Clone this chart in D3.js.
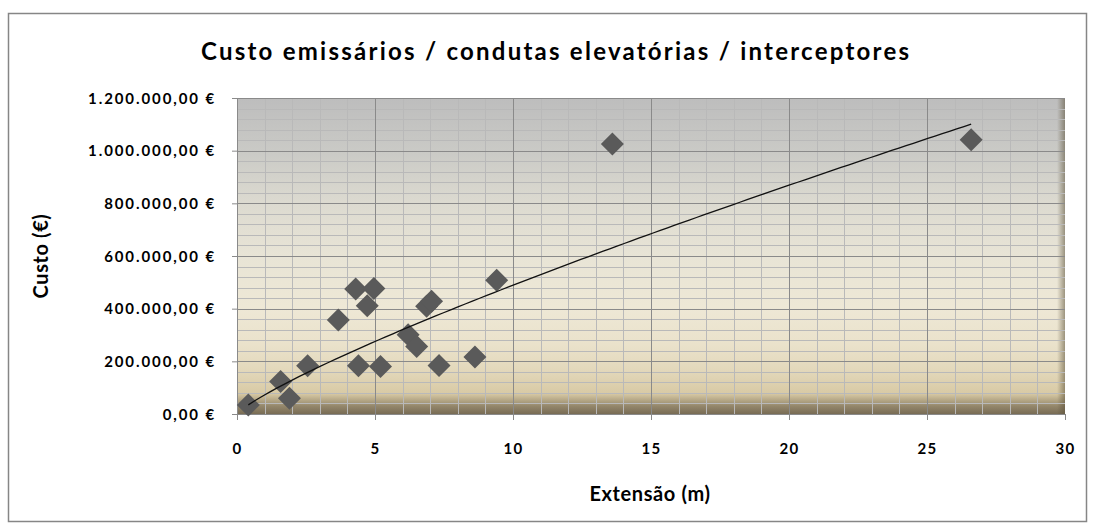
<!DOCTYPE html>
<html>
<head>
<meta charset="utf-8">
<script src="https://cdn.jsdelivr.net/npm/d3@7"></script>
<style>
  html, body { margin: 0; padding: 0; background: #fff; }
  svg { display: block; }
  text { font-family: Lato, "Open Sans", sans-serif; fill: #000; }
</style>
</head>
<body>
<svg id="chart" width="1095" height="528"></svg>
<script>
// ---- data ----
const extensao = [0.41, 1.58, 1.9, 2.56, 3.67, 4.3, 4.4, 4.72, 4.96, 5.2, 6.2, 6.51, 6.87, 7.05, 7.32, 8.62, 9.41, 13.6, 26.6];
const custo    = [34000, 123000, 60000, 183000, 357000, 475000, 183000, 411000, 477000, 180000, 301000, 256000, 409000, 428000, 184000, 216000, 508000, 1025000, 1041000];
const xTicks = [0, 5, 10, 15, 20, 25, 30];
const yTicks = [0, 200000, 400000, 600000, 800000, 1000000, 1200000];
const titleText = "Custo emissários / condutas elevatórias / interceptores";
const xTitle = "Extensão (m)";
const yTitle = "Custo (€)";

const svg = d3.select("#chart");
const L = 237, R = 1065, T = 98, B = 414;

const x = d3.scaleLinear().domain([0, 30]).range([L, R]);
const y = d3.scaleLinear().domain([0, 1200000]).range([B, T]);

const defs = svg.append("defs");
const g1 = defs.append("linearGradient").attr("id", "bgv").attr("x1", 0).attr("y1", 0).attr("x2", 0).attr("y2", 1);
[[0, "#bdbdbd"], [0.17, "#cacac6"], [0.33, "#dcdad0"], [0.5, "#e8e4d6"], [0.66, "#eee8d6"], [0.78, "#eae2cb"], [0.86, "#e3d8bb"], [0.935, "#d8caa5"], [0.955, "#b7a988"], [0.975, "#94876b"], [1, "#786c55"]]
  .forEach(([o, c]) => g1.append("stop").attr("offset", o).attr("stop-color", c));
const g2 = defs.append("linearGradient").attr("id", "bgh").attr("x1", 0).attr("y1", 0).attr("x2", 1).attr("y2", 0);
g2.append("stop").attr("offset", 0).attr("stop-color", "#5a5038").attr("stop-opacity", 0);
g2.append("stop").attr("offset", 1).attr("stop-color", "#5a5038").attr("stop-opacity", 0.55);

// outer border
svg.append("rect").attr("x", 8.5).attr("y", 13.5).attr("width", 1078).attr("height", 508)
  .attr("fill", "#fff").attr("stroke", "#868686").attr("stroke-width", 1.5);

// plot background
svg.append("rect").attr("x", L).attr("y", T).attr("width", R - L).attr("height", B - T).attr("fill", "url(#bgv)");
svg.append("rect").attr("x", R - 8).attr("y", T).attr("width", 8).attr("height", B - T).attr("fill", "url(#bgh)");

// minor gridlines
const grid = svg.append("g");
grid.selectAll("line.vmin").data(d3.range(1, 30).filter(d => d % 5 !== 0)).join("line")
  .attr("x1", d => Math.round(x(d)) + 0.5).attr("x2", d => Math.round(x(d)) + 0.5)
  .attr("y1", T).attr("y2", B).attr("stroke", "#b9b9b9").attr("stroke-width", 1);
grid.selectAll("line.hmin").data(d3.range(40000, 1200000, 40000).filter(d => d % 200000 !== 0)).join("line")
  .attr("y1", d => Math.round(y(d)) + 0.5).attr("y2", d => Math.round(y(d)) + 0.5)
  .attr("x1", L).attr("x2", R).attr("stroke", "#b9b9b9").attr("stroke-width", 1);
// major gridlines
grid.selectAll("line.vmaj").data(xTicks.filter(d => d > 0 && d < 30)).join("line")
  .attr("x1", d => Math.round(x(d)) + 0.5).attr("x2", d => Math.round(x(d)) + 0.5)
  .attr("y1", T).attr("y2", B).attr("stroke", "#8a8a8a").attr("stroke-width", 1);
grid.selectAll("line.hmaj").data(yTicks.filter(d => d > 0)).join("line")
  .attr("y1", d => Math.round(y(d)) + 0.5).attr("y2", d => Math.round(y(d)) + 0.5)
  .attr("x1", L).attr("x2", R).attr("stroke", "#8a8a8a").attr("stroke-width", 1);

// axes
const fmtEuro = d => {
  const s = d3.format(",.2f")(d).replace(/,/g, "#").replace(".", ",").replace(/#/g, ".");
  return s + " €";
};
const yAxis = svg.append("g").attr("transform", `translate(${L},0)`)
  .call(d3.axisLeft(y).tickValues(yTicks).tickSize(5).tickPadding(16).tickFormat(fmtEuro));
const xAxis = svg.append("g").attr("transform", `translate(0,${B})`)
  .call(d3.axisBottom(x).tickValues(xTicks).tickSize(6).tickPadding(23).tickFormat(d3.format("d")));
[yAxis, xAxis].forEach(a => {
  a.select(".domain").attr("stroke", "#8a8a8a");
  a.selectAll(".tick line").attr("stroke", "#8a8a8a");
  a.selectAll(".tick text").attr("font-size", 15).attr("font-weight", 700).attr("fill", "#111")
    .style("font-family", 'Lato, "Open Sans", sans-serif');
});
yAxis.selectAll(".tick text").attr("letter-spacing", "1.9px").attr("dy", "0.35em");
xAxis.selectAll(".tick text").attr("letter-spacing", "1.2px").attr("dy", "0.71em");

// trendline (power fit, least squares in log space, as in spreadsheet trendlines)
const lx = extensao.map(Math.log), ly = custo.map(Math.log);
const mx = d3.mean(lx), my = d3.mean(ly);
const bExp = d3.sum(lx.map((v, i) => (v - mx) * (ly[i] - my))) / d3.sum(lx.map(v => (v - mx) ** 2));
const aCoef = Math.exp(my - bExp * mx);
const xmin = d3.min(extensao), xmax = d3.max(extensao);
const trendX = d3.range(0, 101).map(i => xmin + (xmax - xmin) * i / 100);

// markers
const r = 11.5;
svg.append("g").selectAll("path").data(extensao.map((v, i) => [v, custo[i]])).join("path")
  .attr("d", d => {
    const cx = x(d[0]), cy = y(d[1]);
    return `M${cx},${cy - r}L${cx + r},${cy}L${cx},${cy + r}L${cx - r},${cy}Z`;
  })
  .attr("fill", "#5a5a5a");

svg.append("path").datum(trendX)
  .attr("d", d3.line().x(d => x(d)).y(d => y(aCoef * Math.pow(d, bExp))))
  .attr("fill", "none").attr("stroke", "#111").attr("stroke-width", 1.3);

// titles
svg.append("text").attr("x", 555).attr("y", 60).attr("text-anchor", "middle")
  .attr("font-size", 24).attr("font-weight", 700).attr("textLength", 708).attr("lengthAdjust", "spacing")
  .text(titleText);
svg.append("text").attr("x", 650).attr("y", 501).attr("text-anchor", "middle")
  .attr("font-size", 20).attr("font-weight", 700).attr("letter-spacing", "0.6px")
  .text(xTitle);
svg.append("text").attr("transform", "translate(48,256) rotate(-90)").attr("text-anchor", "middle")
  .attr("font-size", 20).attr("font-weight", 700).attr("letter-spacing", "0.6px")
  .text(yTitle);
</script>
</body>
</html>
